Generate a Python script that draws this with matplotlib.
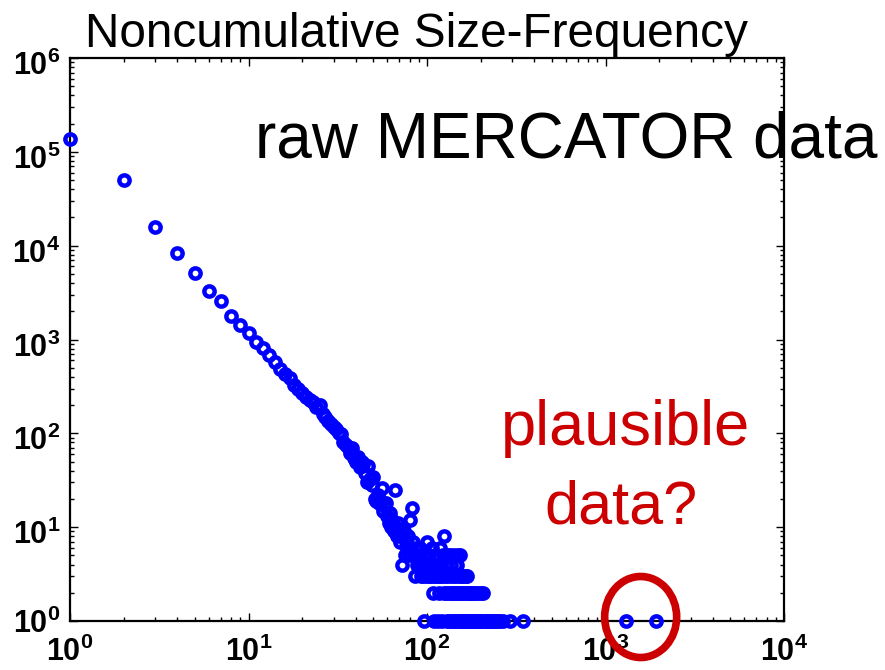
import matplotlib
matplotlib.use('Agg')
import matplotlib.pyplot as plt
from matplotlib.patches import Ellipse
from matplotlib.transforms import ScaledTranslation
import numpy as np

plt.rcParams['font.family'] = 'Liberation Sans'
plt.rcParams['mathtext.fontset'] = 'custom'
plt.rcParams['mathtext.rm'] = 'Liberation Sans'
plt.rcParams['mathtext.bf'] = 'Liberation Sans:bold'

# event size vs. number of events of that size
sizes_head = [1, 2, 3, 4, 5, 6, 7, 8, 9, 10, 11, 12, 13, 14, 15, 16, 17]
counts_head = [138000, 50000, 16000, 8300, 5100, 3300, 2560, 1780, 1430,
               1170, 950, 807, 685, 580, 482, 427, 388]

sizes_mid = [18, 19, 20, 21, 22, 23, 24, 25, 26, 27, 28, 29, 30, 31, 32, 33,
             34, 35, 36, 37, 38, 39, 40, 41, 42, 43, 44, 45, 46, 47, 48, 49,
             50, 51, 52, 53, 54, 55, 56, 57, 58, 59]
counts_mid = [330, 300, 270, 245, 225, 215, 190, 200, 160, 150, 135, 125,
              118, 110, 100, 98, 80, 75, 72, 62, 70, 55, 50, 56, 44, 50, 47,
              38, 30, 45, 33, 28, 34, 20, 19, 22, 18, 19, 26, 15, 17, 18]

sizes_tail = [60, 61, 62, 63, 64, 65, 66, 67, 68, 69,
              70, 71, 72, 73, 74, 75, 76, 77, 78, 79,
              80, 81, 82, 83, 84, 85, 86, 87, 88, 89,
              90, 91, 92, 93, 94, 95, 96, 97, 98, 99,
              100, 101, 102, 103, 104, 105, 106, 107, 108, 109,
              110, 111, 112, 113, 114, 115, 116, 117, 118, 119,
              120, 121, 122, 123, 124, 125, 126, 127, 128, 129,
              130, 131, 132, 133, 134, 135, 136, 137, 138, 139,
              140, 141, 142, 143, 144, 145, 146, 147, 148, 149,
              150, 151, 152, 153, 154, 155, 156, 157, 158, 159,
              160, 161, 162, 163]
counts_tail = [13, 11, 14, 10, 12, 9, 25, 10, 8, 11,
               9, 7, 4, 8, 9, 5, 7, 6, 8, 5,
               12, 6, 16, 5, 7, 5, 3, 6, 4, 5,
               4, 6, 3, 5, 4, 3, 1, 4, 5, 3,
               7, 4, 3, 5, 3, 4, 6, 3, 2, 4,
               1, 3, 5, 3, 4, 1, 3, 2, 6, 3,
               4, 1, 3, 5, 8, 2, 3, 4, 2, 1,
               3, 5, 2, 1, 5, 3, 2, 4, 1, 3,
               2, 5, 1, 3, 2, 4, 1, 4, 2, 5,
               3, 1, 2, 5, 1, 3, 2, 1, 3, 2,
               3, 1, 2, 1]

sizes_sparse = [165, 166, 167, 168, 170, 172, 173, 175, 177, 178, 180, 182,
                184, 186, 188, 190, 193, 195, 198, 200, 203, 207, 210, 215,
                220, 225, 230, 236, 242, 250, 258, 265, 292, 344, 1297, 1910]
counts_sparse = [3, 1, 3, 2, 1, 2, 1, 2, 1, 2, 1, 2,
                 1, 1, 2, 1, 2, 1, 1, 2, 1, 2, 1, 1,
                 1, 1, 1, 1, 1, 1, 1, 1, 1, 1, 1, 1]

outliers = [1297, 1910]

xtick_vals = [1, 10, 100, 1000, 10000]
ytick_vals = [1, 10, 100, 1000, 10000, 100000, 1000000]

sizes = sizes_head + sizes_mid + sizes_tail + sizes_sparse
counts = counts_head + counts_mid + counts_tail + counts_sparse
assert len(sizes) == len(counts)

fig = plt.figure(figsize=(8.85, 6.7), dpi=100)
ax = fig.add_axes([70 / 885, 1 - 621 / 670, 714 / 885, 563 / 670])

ax.plot(sizes, counts, 'o', mfc='none', mec=(0, 0, 1), ms=7.4, mew=3.2,
        clip_on=False, zorder=3)

ax.set_xscale('log')
ax.set_yscale('log')
ax.set_xlim(1, 1e4)
ax.set_ylim(1, 1e6)

ax.set_xticks(xtick_vals)
ax.set_xticklabels([r'$\mathbf{10^{%d}}$' % int(np.log10(v)) for v in xtick_vals])
ax.set_yticks(ytick_vals)
ax.set_yticklabels([r'$\mathbf{10^{%d}}$' % int(np.log10(v)) for v in ytick_vals])

ax.tick_params(which='both', direction='in', top=True, right=True, width=1)
ax.tick_params(which='major', length=6, labelsize=22)
ax.tick_params(which='minor', length=3)
ax.tick_params(axis='x', which='major', pad=11)
ax.tick_params(axis='y', which='major', pad=7)
for sp in ax.spines.values():
    sp.set_linewidth(1.6)

# matlab puts the y labels a bit below their tick
for lab in ax.get_yticklabels()[1:]:
    lab.set_transform(lab.get_transform() + ScaledTranslation(0, -5 / 100, fig.dpi_scale_trans))

fig.text(416 / 885, 1 - 47 / 670, 'Noncumulative Size-Frequency',
         ha='center', va='baseline', fontsize=34.4)
fig.text(566 / 885, 1 - 157 / 670, 'raw MERCATOR data',
         ha='center', va='baseline', fontsize=46)
fig.text(626 / 885, 1 - 445 / 670, 'plausible',
         ha='center', va='baseline', fontsize=45.5, color='#CC0000')
fig.text(621 / 885, 1 - 523 / 670, 'data?',
         ha='center', va='baseline', fontsize=44, color='#CC0000')

# red ring around the two outliers
fig.canvas.draw()
cx = np.sqrt(outliers[0] * outliers[1])
px, py = ax.transData.transform((cx, 1))
ring = Ellipse((px / 885, (py + 4) / 670), 72 / 885, 81 / 670,
               transform=fig.transFigure, fill=False, ec='#CC0000', lw=5.5,
               clip_on=False, zorder=5)
fig.add_artist(ring)

fig.savefig('out.png', dpi=100)
